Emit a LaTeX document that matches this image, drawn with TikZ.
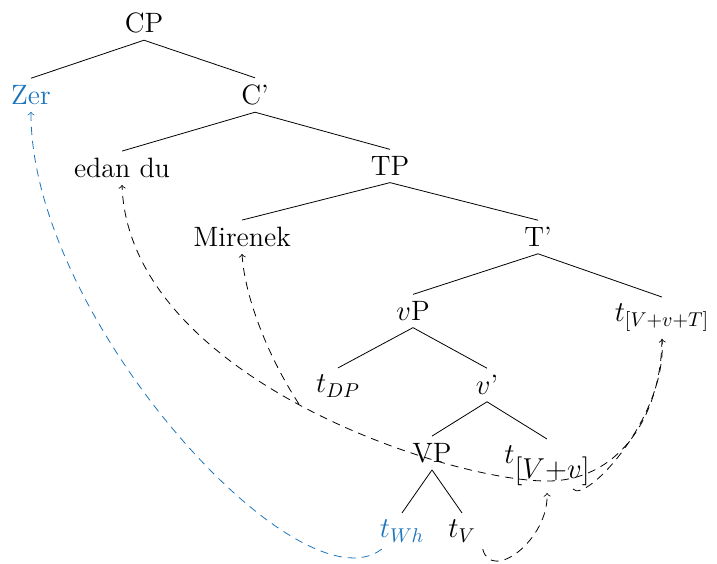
\documentclass[tikz,border=0pt]{standalone}
\usetikzlibrary{positioning}
\definecolor{whblue}{RGB}{28,117,188}
\tikzset{
	wh/.style      = {text=whblue},
	branch/.style  = {draw=black},
	trace/.style   = {->, dash pattern=on 4pt off 3pt},
	whtrace/.style = {trace, draw=whblue}
}

\begin{document}
\begin{tikzpicture}[x=0.5pt, y=0.5pt, on grid, every node/.style={font=\fontsize{14}{17}\selectfont}]
	\useasboundingbox (0,0) rectangle (717,-563);
	\node (cp)      at (144,-23) {CP};
	\node (zer)     [wh, below left=36pt and 56.5pt of cp] {Zer};
	\node (cbar)    [below right=36pt and 55.5pt of cp] {C'};
	\node (edandu)  [below left=36.5pt and 66.5pt of cbar] {edan du};
	\node (tp)      [below right=35.5pt and 67.5pt of cbar] {TP};
	\node (mirenek) [below left=35.5pt and 74pt of tp] {Mirenek};
	\node (tbar)    [below right=35.5pt and 74pt of tp] {T'};
	\node (vp)      [below left=37pt and 62.5pt of tbar] {$v$P};
	\node (tvvt)    [below right=40.5pt and 62pt of tbar] {$t_{[V+v+T]}$};
	\node (tdp)     [below left=37.5pt and 37.5pt of vp] {$t_{DP}$};
	\node (vbar)    [below right=37pt and 37pt of vp] {$v$'};
	\node (vpp)     [below left=34pt and 27.5pt of vbar] {VP};
	\node (tvv)     [below right=40.5pt and 30pt of vbar] {$t\raisebox{-7.5pt}{$[V{+}v]$}$};
	\node (twh)     [wh, below left=39pt and 15pt of vpp] {$t_{Wh}$};
	\node (tv)      [below right=39pt and 15pt of vpp] {$t_V$};

	\draw [branch] (cp.south) -- (zer.north);
	\draw [branch] (cp.south) -- (cbar.north);
	\draw [branch] (cbar.south) -- (edandu.north);
	\draw [branch] (cbar.south) -- (tp.north);
	\draw [branch] (tp.south) -- (mirenek.north);
	\draw [branch] (tp.south) -- (tbar.north);
	\draw [branch] (tbar.south) -- (vp.north);
	\draw [branch] (tbar.south) -- (tvvt.north);
	\draw [branch] (vp.south) -- (tdp.north);
	\draw [branch] (vp.south) -- (vbar.north);
	\draw [branch] (vbar.south) -- (vpp.north);
	\draw [branch] (vbar.south) -- (tvv.north);
	\draw [branch] (vpp.south) -- (twh.north);
	\draw [branch] (vpp.south) -- (tv.north);

	\draw [whtrace] ([xshift=4.5pt]twh.south west) .. controls +(-83,-64) and +(-1,-205) .. (zer.south);
	\draw [trace]   ([xshift=-5pt]tdp.south west) .. controls +(-30,46) and +(3,-45) .. (mirenek.south);
	\draw [trace]   (tvvt.south) .. controls +(-1,-80) and +(70,0) .. ([yshift=6pt]tvv.south)
	                .. controls +(-100,0) and +(7,-192) .. (edandu.south);
	\draw [trace]   ([xshift=13pt,yshift=2pt]tvv.south) .. controls +(12,-15) and +(5,-79) .. (tvvt.south);
	\draw [trace]   (tv.south east) .. controls +(9,-34) and +(2,-46) .. (tvv.south);
\end{tikzpicture}
\end{document}
